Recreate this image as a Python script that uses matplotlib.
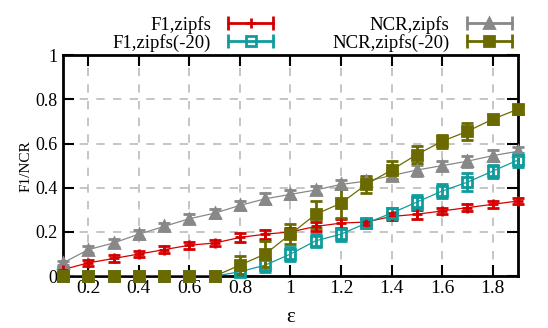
import numpy as np
import matplotlib.pyplot as plt
from matplotlib.lines import Line2D
from matplotlib.legend_handler import HandlerLine2D, HandlerTuple
from matplotlib.ticker import FormatStrFormatter

# veriler
eps = [0.1, 0.2, 0.3, 0.4, 0.5, 0.6, 0.7, 0.8, 0.9, 1.0,
       1.1, 1.2, 1.3, 1.4, 1.5, 1.6, 1.7, 1.8, 1.9]

f1_zipfs = [0.03, 0.06, 0.08, 0.10, 0.12, 0.14, 0.15, 0.175, 0.19, 0.20,
            0.225, 0.24, 0.245, 0.27, 0.28, 0.295, 0.31, 0.325, 0.34]
f1_zipfs_err = [0.01, 0.015, 0.015, 0.015, 0.015, 0.015, 0.015, 0.02, 0.02, 0.02,
                0.02, 0.02, 0.015, 0.015, 0.02, 0.015, 0.015, 0.015, 0.015]

f1_zipfs20 = [0.0, 0.0, 0.0, 0.0, 0.0, 0.0, 0.0, 0.02, 0.05, 0.10,
              0.16, 0.19, 0.24, 0.285, 0.335, 0.385, 0.425, 0.475, 0.525]
f1_zipfs20_err = [0.0, 0.0, 0.0, 0.0, 0.0, 0.0, 0.0, 0.01, 0.03, 0.03,
                  0.03, 0.03, 0.02, 0.025, 0.03, 0.03, 0.04, 0.03, 0.03]

ncr_zipfs = [0.06, 0.12, 0.15, 0.19, 0.225, 0.26, 0.285, 0.32, 0.35, 0.37,
             0.39, 0.415, 0.43, 0.455, 0.48, 0.50, 0.52, 0.545, 0.565]
ncr_zipfs_err = [0.01, 0.015, 0.02, 0.02, 0.015, 0.02, 0.02, 0.02, 0.025, 0.02,
                 0.02, 0.02, 0.02, 0.02, 0.025, 0.02, 0.025, 0.025, 0.02]

ncr_zipfs20 = [0.0, 0.0, 0.0, 0.0, 0.0, 0.0, 0.0, 0.05, 0.10, 0.19,
               0.28, 0.33, 0.415, 0.48, 0.55, 0.61, 0.655, 0.71, 0.755]
ncr_zipfs20_err = [0.0, 0.0, 0.0, 0.0, 0.0, 0.0, 0.0, 0.04, 0.06, 0.045,
                   0.06, 0.065, 0.04, 0.04, 0.04, 0.03, 0.04, 0.02, 0.02]

labels = ["F1,zipfs", "F1,zipfs(-20)", "NCR,zipfs", "NCR,zipfs(-20)"]

plt.rcParams["font.family"] = ["Liberation Serif", "DejaVu Serif"]

fig = plt.figure(figsize=(5.48, 3.28), dpi=100)
ax = fig.add_axes([0.115, 0.158, 0.83, 0.674])

red = "#d40000"
cyan = "#0f9c9c"
gray = "#888888"
olive = "#6a6a00"

series = [
    (ncr_zipfs, ncr_zipfs_err, gray, "^", "full"),
    (f1_zipfs, f1_zipfs_err, red, "+", "full"),
    (f1_zipfs20, f1_zipfs20_err, cyan, "s", "none"),
    (ncr_zipfs20, ncr_zipfs20_err, olive, "s", "full"),
]
for y, e, c, m, fs in series:
    ax.plot(eps, y, color=c, lw=0.9, zorder=3)
    ax.errorbar(eps, y, yerr=e, fmt="none", ecolor=c, elinewidth=2,
                capsize=4.5, capthick=2, zorder=4, clip_on=False)
    ax.plot(eps, y, ls="none", marker=m, color=c, fillstyle=fs,
            ms=7.5, mew=2, zorder=5, clip_on=False)

ax.set_xlim(0.1, 1.9)
ax.set_ylim(0, 1)
ax.set_xticks([0.2, 0.4, 0.6, 0.8, 1.0, 1.2, 1.4, 1.6, 1.8])
ax.set_yticks([0, 0.2, 0.4, 0.6, 0.8, 1.0])
ax.xaxis.set_major_formatter(FormatStrFormatter("%g"))
ax.yaxis.set_major_formatter(FormatStrFormatter("%g"))
ax.tick_params(direction="in", length=8, width=1.5, top=True, right=True,
               labelsize=14, pad=3, colors="black")
ax.tick_params(axis="y", labelsize=13, pad=4)
ax.grid(True, ls=(0, (5, 5)), color="#bbbbbb", lw=1.2)
ax.set_axisbelow(True)
for s in ax.spines.values():
    s.set_linewidth(2)

ax.set_xlabel("ε", fontsize=15, labelpad=8)
ax.set_ylabel("F1/NCR", fontsize=11, labelpad=2)

# lejant: yatay cizgi + uclarda kapak + ortada isaretci
handles = []
hmap = {}
for c, m, fs in [(red, "+", "full"), (cyan, "s", "none"),
                 (gray, "^", "full"), (olive, "s", "full")]:
    caps = Line2D([], [], color=c, lw=2, marker="|", ms=10, mew=2)
    mid = Line2D([], [], color=c, lw=0, marker=m, fillstyle=fs,
                 ms=7.5, mew=2)
    hmap[caps] = HandlerLine2D(numpoints=2)
    hmap[mid] = HandlerLine2D(numpoints=1)
    handles.append((caps, mid))
hmap[tuple] = HandlerTuple(ndivide=1, pad=0)

leg = fig.legend(handles, labels, handler_map=hmap, ncol=2, frameon=False,
                 markerfirst=False, loc="upper right",
                 bbox_to_anchor=(0.944, 0.952), fontsize=13.5,
                 handlelength=3.0, handletextpad=0.62, columnspacing=2.85,
                 labelspacing=0.0, borderpad=0, borderaxespad=0)

fig.savefig("out.png", dpi=100)
